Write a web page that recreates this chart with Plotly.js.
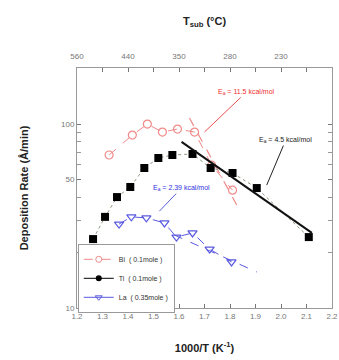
<!DOCTYPE html>
<html>
<head>
<meta charset="utf-8">
<script src="https://cdn.plot.ly/plotly-3.0.1.min.js"></script>
<style>html,body{margin:0;padding:0;background:#fff;}#chart{width:339px;height:360px;}</style>
</head>
<body>
<div id="chart"></div>
<script>
// Bi (0.1 mole)
const biX = [1.326, 1.417, 1.476, 1.535, 1.594, 1.661, 1.728, 1.810];
const biY = [67.9, 87.1, 100, 90.5, 94.0, 90.5, 59.8, 43.7];
// Ti (0.1 mole)
const tiX = [1.263, 1.310, 1.357, 1.409, 1.464, 1.519, 1.574, 1.653, 1.724, 1.810, 1.905, 2.109];
const tiY = [23.7, 31.3, 40.1, 45.5, 57.7, 65.4, 67.9, 68.8, 57.7, 54.2, 44.9, 24.3];
// La (0.35 mole)
const laX = [1.365, 1.413, 1.472, 1.543, 1.590, 1.653, 1.720, 1.806];
const laY = [28.6, 31.3, 30.9, 29.0, 24.3, 25.6, 20.9, 17.8];
// Arrhenius fit lines
const biFitX = [1.641, 1.840];
const biFitY = [108, 33.5];
const tiFitX = [1.610, 2.121];
const tiFitY = [80, 25.6];
const laFitX = [1.580, 1.905];
const laFitY = [25.0, 15.7];
// tick labels
const bottomTicks = [1.2, 1.3, 1.4, 1.5, 1.6, 1.7, 1.8, 1.9, 2.0, 2.1, 2.2];
const bottomText = ['1.2','1.3','1.4','1.5','1.6','1.7','1.8','1.9','2.0','2.1','2.2'];
const topTicks = [1.2, 1.4, 1.6, 1.8, 2.0, 2.2];
const topText = ['560', '440', '350', '280', '230', '180'];
const yTicks = [10, 50, 100];
const yTickText = ['10', '50', '100'];
const yMinor = [20, 30, 40, 60, 70, 80, 90, 200];
const legendNames = ['Bi  ( 0.1mole )', 'Ti  ( 0.1mole )', 'La  ( 0.35mole )'];

const pink = '#f08a8a';
const blue = '#5a5ae0';
const FONT = 'Liberation Sans, Arial, sans-serif';
const labelFont = {family: FONT, size: 11, color: '#222'};
const tickFont = {family: FONT, size: 8, color: '#777'};

const traces = [
  {x: biX, y: biY, mode: 'lines+markers', showlegend: false,
   line: {color: pink, width: 1, dash: 'dash'},
   marker: {symbol: 'circle-open', size: 8, color: pink, line: {width: 1.2, color: pink}}},
  {x: biFitX, y: biFitY, mode: 'lines', showlegend: false,
   line: {color: pink, width: 1.2, dash: 'dash'}},
  {x: tiX, y: tiY, mode: 'lines+markers', showlegend: false,
   line: {color: '#8a9a80', width: 1, dash: 'dot'},
   marker: {symbol: 'square', size: 8, color: '#000'}},
  {x: tiFitX, y: tiFitY, mode: 'lines', showlegend: false,
   line: {color: '#111', width: 2}},
  {x: laX, y: laY, mode: 'lines+markers', showlegend: false,
   line: {color: blue, width: 1, dash: 'dash'},
   marker: {symbol: 'triangle-down-open', size: 8, color: blue, line: {width: 1.2, color: blue}}},
  {x: laFitX, y: laFitY, mode: 'lines', showlegend: false,
   line: {color: blue, width: 1, dash: 'dash'}},
  // legend entries
  {x: [null], y: [null], mode: 'lines+markers', name: legendNames[0],
   line: {color: pink, width: 1, dash: 'dash'},
   marker: {symbol: 'circle-open', size: 6, color: pink}},
  {x: [null], y: [null], mode: 'lines+markers', name: legendNames[1],
   line: {color: '#000', width: 1},
   marker: {symbol: 'circle', size: 6, color: '#000'}},
  {x: [null], y: [null], mode: 'lines+markers', name: legendNames[2],
   line: {color: blue, width: 1},
   marker: {symbol: 'triangle-down-open', size: 6, color: blue}},
  // top axis carrier
  {x: [null], y: [null], xaxis: 'x2', mode: 'markers', showlegend: false, hoverinfo: 'skip'}
];

const layout = {
  width: 339, height: 360,
  margin: {l: 77, r: 7, t: 68, b: 52},
  paper_bgcolor: '#fff', plot_bgcolor: '#fff',
  showlegend: true,
  legend: {x: 0.003, y: -0.02, xanchor: 'left', yanchor: 'bottom',
    bgcolor: '#fff', bordercolor: '#999', borderwidth: 1,
    font: {family: FONT, size: 7, color: '#333'},
    tracegroupgap: 0, itemwidth: 30},
  xaxis: {
    range: [1.2, 2.2], tickmode: 'array', tickvals: bottomTicks, ticktext: bottomText,
    ticks: 'inside', ticklen: 4, tickcolor: '#777', showline: true, linecolor: '#999', linewidth: 1,
    mirror: 'allticks',
    showgrid: false, zeroline: false, tickfont: tickFont,
    title: {text: '<b>1000/T (K<sup>-1</sup>)</b>', font: labelFont, standoff: 24}
  },
  xaxis2: {
    overlaying: 'x', side: 'top', anchor: 'y', range: [1.2, 2.2],
    tickmode: 'array', tickvals: topTicks, ticktext: topText,
    ticks: '', ticklabelstandoff: 6, showline: false,
    showgrid: false, zeroline: false, tickfont: tickFont,
    title: {text: '<b>T<sub>sub</sub> (°C)</b>', font: labelFont, standoff: 24}
  },
  yaxis: {
    type: 'log', range: [1, 2.305], tickmode: 'array', tickvals: yTicks, ticktext: yTickText,
    ticks: 'inside', ticklen: 4, tickcolor: '#777', showline: true, linecolor: '#999', linewidth: 1,
    mirror: 'allticks',
    minor: {tickmode: 'array', tickvals: yMinor, ticks: 'inside', ticklen: 2, tickcolor: '#999'},
    showgrid: false, zeroline: false, tickfont: tickFont,
    title: {text: '<b>Deposition Rate (Å/min)</b>', font: labelFont, standoff: 30}
  },
  annotations: [
    {x: 1.70, y: Math.log10(90.6), xref: 'x', yref: 'y', ax: 42, ay: -40,
     text: 'E<sub>a</sub> = 11.5 kcal/mol', showarrow: true, arrowhead: 0, arrowwidth: 1, arrowcolor: '#f05050',
     font: {family: FONT, size: 7, color: '#f03030'}},
    {x: 1.944, y: Math.log10(46.6), xref: 'x', yref: 'y', ax: 19, ay: -45,
     text: 'E<sub>a</sub> = 4.5 kcal/mol', showarrow: true, arrowhead: 0, arrowwidth: 1, arrowcolor: '#222',
     font: {family: FONT, size: 7, color: '#222'}},
    {x: 1.523, y: Math.log10(33.6), xref: 'x', yref: 'y', ax: 22, ay: -23,
     text: 'E<sub>a</sub> = 2.39 kcal/mol', showarrow: true, arrowhead: 0, arrowwidth: 1, arrowcolor: blue,
     font: {family: FONT, size: 7, color: '#3030e0'}}
  ]
};

Plotly.newPlot('chart', traces, layout, {displayModeBar: false, staticPlot: true});
</script>
</body>
</html>
